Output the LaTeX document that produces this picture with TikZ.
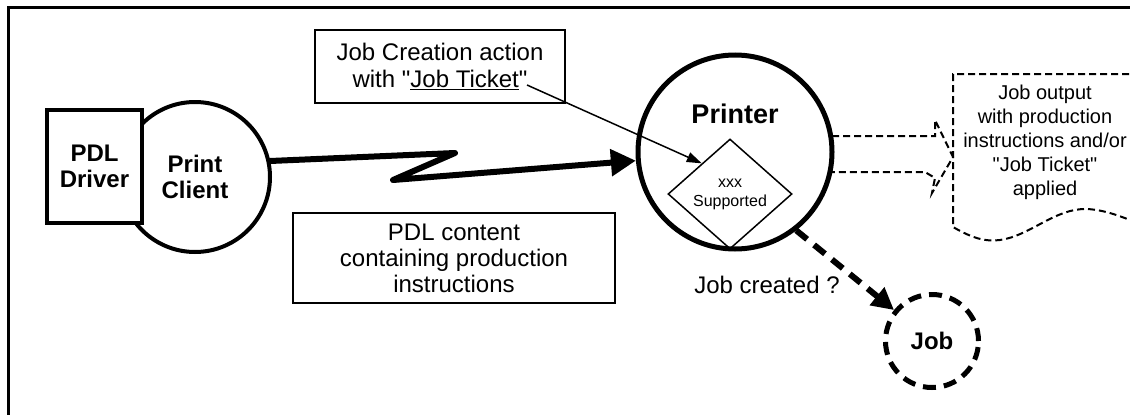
\documentclass[tikz,border=0pt]{standalone}
\usepackage{fontspec}
\setmainfont{Liberation Sans}
\usetikzlibrary{shapes.geometric,arrows.meta,calc}
\newcommand\sq{\XeTeXglyph\numexpr\XeTeXcharglyph"22\relax}
\begin{document}
\begin{tikzpicture}[x=1pt,y=-1pt,
  txt/.style={font=\fontsize{24}{26}\selectfont, align=center},
  boldtxt/.style={font=\fontsize{24}{26}\selectfont\bfseries, align=center},
  labelbox/.style={draw, line width=2.5pt, inner sep=0pt, align=center},
  dashline/.style={line width=2pt, dash pattern=on 7pt off 4pt},
  bigdash/.style={line width=6pt, dash pattern=on 14pt off 9pt}
]
\useasboundingbox (0,0) rectangle (1130,415);
\begin{scope}
\clip (0,0) rectangle (1130,415);
% frame
\draw[line width=3pt] (8,420) -- (8,7) -- (1135,7);

% print client and driver
\node[circle, draw, line width=4pt, minimum size=150pt, inner sep=0pt, boldtxt] (pc) at (195,177) {Print\\Client};
\node[draw, fill=white, line width=4.5pt, minimum width=95pt, minimum height=113pt, inner sep=0pt, boldtxt] (drv) at (94.5,166.5) {PDL\\Driver};

% printer
\node[circle, draw, line width=5pt, minimum size=194pt, inner sep=0pt] (pr) at (735,152) {};
\node[font=\fontsize{27}{30}\selectfont\bfseries, inner sep=0pt] (prl) at (735,114) {Printer};
\node[diamond, draw, line width=1.5pt, minimum width=124pt, minimum height=110pt, inner sep=0pt,
      font=\fontsize{16}{19}\selectfont, align=center] (dia) at (730,194) {xxx\\Supported};

% zigzag transmission
\coordinate (z1) at (455,153);
\coordinate (z2) at (393,180);
\draw[line width=6pt, line join=round, line cap=round, -{Triangle[length=25pt,width=26pt]}] (pc.12) -- (z1) -- (z2) -- (pr.185);

% job creation box
\node[labelbox, minimum width=250pt, minimum height=73pt, font=\fontsize{24}{27}\selectfont] (jc) at (440,66.5)
  {Job Creation action\\with \sq\underline{Job Ticket}\sq};
\coordinate (jt) at (527,85);
\draw[line width=1.5pt, -{Triangle[length=15pt,width=10pt]}] (jt) -- ($(dia.north)!0.45!(dia.west)$);

% PDL content box
\node[labelbox, minimum width=322pt, minimum height=90pt, txt] (pdl) at (454,258)
  {PDL content\\containing production\\instructions};

% job
\node[circle, draw, line width=5pt, dash pattern=on 13pt off 8pt, minimum size=93pt, inner sep=0pt, boldtxt] (job) at (932,341) {Job};
\draw[bigdash, -{Triangle[length=22pt,width=22pt]}] (pr.-52) -- (job);
\node[txt, inner sep=0pt] (jq) at (767,285) {Job created ?};

% block arrow (output)
\draw[dashline, line join=miter] (832,136) -- (935,136) -- (935,120) -- (953,157) -- (932,193) -- (935,178) -- (925,172) -- (832,172);

% output document
\draw[dashline] (1140,74) -- (953,74) -- (953,227)
  .. controls (972,238) and (985,242) .. (1000,240)
  .. controls (1030,236) and (1055,208) .. (1087,209)
  .. controls (1105,210) and (1120,216) .. (1140,224);
\node[font=\fontsize{20}{24}\selectfont, align=center, inner sep=0pt] (doc) at (1045,142)
  {Job output\\with production\\instructions and/or\\\sq Job Ticket\sq\\applied};
\end{scope}
\end{tikzpicture}
\end{document}
